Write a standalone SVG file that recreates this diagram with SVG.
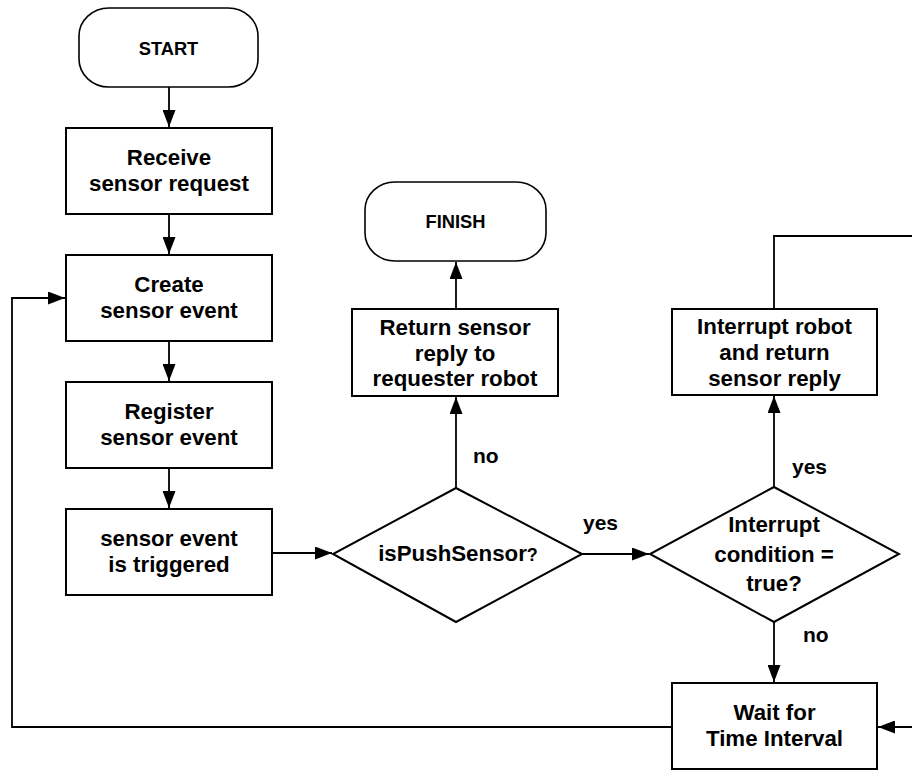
<svg xmlns="http://www.w3.org/2000/svg" width="912" height="770" viewBox="0 0 912 770">
  <defs>
    <marker id="arrow" markerUnits="userSpaceOnUse" markerWidth="18" markerHeight="13" refX="17" refY="6.5" orient="auto">
      <path d="M0,0 L17,6.5 L0,13 z" fill="#000"/>
    </marker>
    <style>
      .shape { fill: #fff; stroke: #000; stroke-width: 2; }
      .term-shape { fill: #fff; stroke: #000; stroke-width: 1.6; }
      .edge { fill: none; stroke: #000; stroke-width: 1.8; marker-end: url(#arrow); }
      text { font-family: "Liberation Sans", Arial, Helvetica, sans-serif; font-weight: bold; fill: #000; }
      .t { font-size: 22.3px; text-anchor: middle; }
      .term { font-size: 18.3px; text-anchor: middle; }
      .lbl { font-size: 21px; }
    </style>
  </defs>
  <rect width="912" height="770" fill="#fff"/>

  <!-- connectors -->
  <g id="connectors">
    <path class="edge" d="M169,87 V127"/>
    <path class="edge" d="M169,214 V254"/>
    <path class="edge" d="M169,341 V381"/>
    <path class="edge" d="M169,468 V508"/>
    <path class="edge" d="M272,553 H332"/>
    <path class="edge" d="M456,488 V397"/>
    <path class="edge" d="M456,309 V262"/>
    <path class="edge" d="M582,554 H649"/>
    <path class="edge" d="M774,487 V396"/>
    <path class="edge" d="M774,622 V682"/>
    <path class="edge" d="M774,309 V236 H922 V727 H878"/>
    <path class="edge" d="M672,727 H12 V298 H65"/>
    <text class="lbl" x="473" y="463">no</text>
    <text class="lbl" x="583" y="530">yes</text>
    <text class="lbl" x="792" y="474">yes</text>
    <text class="lbl" x="803" y="642">no</text>
  </g>

  <g id="start">
    <rect class="term-shape" x="79" y="8" width="179" height="79" rx="30" ry="28"/>
    <text class="term" x="168.5" y="55">START</text>
  </g>

  <g id="receive">
    <rect class="shape" x="66" y="128" width="206" height="86"/>
    <text class="t" x="169" y="165">Receive</text>
    <text class="t" x="169" y="191">sensor request</text>
  </g>

  <g id="create">
    <rect class="shape" x="66" y="255" width="206" height="86"/>
    <text class="t" x="169" y="292">Create</text>
    <text class="t" x="169" y="318">sensor event</text>
  </g>

  <g id="register">
    <rect class="shape" x="66" y="382" width="206" height="86"/>
    <text class="t" x="169" y="419">Register</text>
    <text class="t" x="169" y="445">sensor event</text>
  </g>

  <g id="triggered">
    <rect class="shape" x="66" y="509" width="206" height="86"/>
    <text class="t" x="169" y="546">sensor event</text>
    <text class="t" x="169" y="572">is triggered</text>
  </g>

  <g id="is-push">
    <polygon class="shape" points="456,488 582,554 456,622 333,554"/>
    <text class="t" x="458" y="561">isPushSensor<tspan font-size="18px">?</tspan></text>
  </g>

  <g id="return-reply">
    <rect class="shape" x="352" y="309" width="206" height="87"/>
    <text class="t" x="455" y="335">Return sensor</text>
    <text class="t" x="455" y="361">reply to</text>
    <text class="t" x="455" y="386">requester robot</text>
  </g>

  <g id="finish">
    <rect class="term-shape" x="365" y="182" width="181" height="79" rx="30" ry="28"/>
    <text class="term" x="455.5" y="228">FINISH</text>
  </g>

  <g id="interrupt-condition">
    <polygon class="shape" points="774,487 899,554 774,622 650,554"/>
    <text class="t" x="774" y="532">Interrupt</text>
    <text class="t" x="774" y="562">condition =</text>
    <text class="t" x="774" y="591">true?</text>
  </g>

  <g id="interrupt-robot">
    <rect class="shape" x="672" y="309" width="205" height="86"/>
    <text class="t" x="774.5" y="334">Interrupt robot</text>
    <text class="t" x="774.5" y="360">and return</text>
    <text class="t" x="774.5" y="386">sensor reply</text>
  </g>

  <g id="wait">
    <rect class="shape" x="672" y="683" width="205" height="86"/>
    <text class="t" x="774.5" y="720">Wait for</text>
    <text class="t" x="774.5" y="746">Time Interval</text>
  </g>
</svg>
